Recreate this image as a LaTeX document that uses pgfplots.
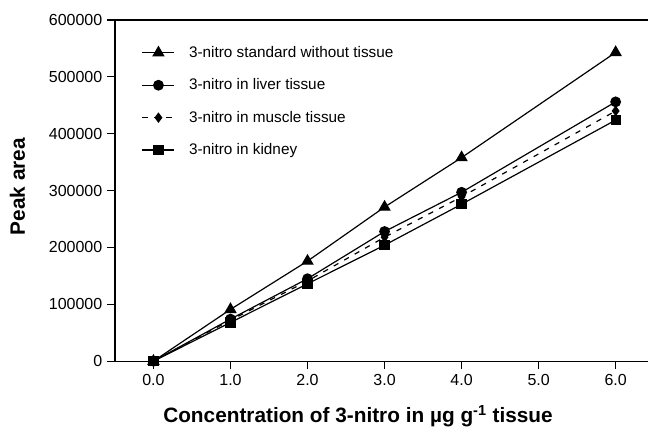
\documentclass[border=0pt]{standalone}
\usepackage{fontspec}
\setmainfont{Liberation Sans}
\usepackage{pgfplots}
\pgfplotsset{compat=1.18}

\begin{document}
\begin{tikzpicture}
\begin{axis}[
    scale only axis, width=400pt, height=256pt,
    xmin=-0.5, xmax=6.42, ymin=0, ymax=600000,
    axis x line*=box, axis y line*=left,
    axis line style={-, line width=0.9pt},
    xtick={0,1,2,3,4,5,6},
    ytick={0,100000,200000,300000,400000,500000,600000},
    xtick pos=bottom, ytick pos=left,
    tick align=outside,
    major tick length=6pt,
    tick style={line width=0.8pt, black},
    scaled y ticks=false,
    /pgf/number format/assume math mode=true,
    xticklabel style={font=\fontsize{12}{14}\selectfont,
        /pgf/number format/.cd, fixed, fixed zerofill, precision=1},
    yticklabel style={font=\fontsize{12}{14}\selectfont,
        /pgf/number format/.cd, fixed, 1000 sep={}},
    xlabel={\textbf{Concentration of 3-nitro in µg g\textsuperscript{-1} tissue}},
    xlabel style={font=\fontsize{15.6}{17}\selectfont, at={([yshift=-45.75pt]axis cs:2.655,0)},
        anchor=base, inner sep=0pt},
    ylabel={\textbf{Peak area}},
    ylabel style={font=\fontsize{15.6}{17}\selectfont, at={([xshift=-67.5pt,yshift=3pt]axis description cs:0,0.5)},
        anchor=base, inner sep=0pt},
    legend cell align=left,
    legend style={draw=none, fill=none, font=\fontsize{11.5}{13}\selectfont,
        at={([xshift=17pt,yshift=-15.5pt]rel axis cs:0,1)}, anchor=north west, row sep=10.5pt,
        /tikz/every odd column/.append style={column sep=8.5pt}},
    legend image code/.code={
        \draw[mark repeat=2,mark phase=2] plot coordinates {(0pt,0pt)(12pt,0pt)(24pt,0pt)};},
    every axis plot/.append style={black, line width=0.9pt},
]
\addplot[mark=triangle*, mark size=4.5pt, mark options={solid}] coordinates {
    (0,0) (1,91000) (2,176000) (3,271000) (4,358000) (6,543000)
};
\addlegendentry{3-nitro standard without tissue}
\addplot[mark=*, mark size=3.6pt, mark options={solid}] coordinates {
    (0,0) (1,74000) (2,145000) (3,228000) (4,297000) (6,456000)
};
\addlegendentry{3-nitro in liver tissue}
\addplot[dash pattern=on 4pt off 5pt, mark=diamond*, mark size=3.2pt, mark options={solid}] coordinates {
    (0,0) (1,72000) (2,141000) (3,218000) (4,289000) (6,440000)
};
\addlegendentry{3-nitro in muscle tissue}
\addplot[mark=square*, mark size=3.4pt, mark options={solid}] coordinates {
    (0,0) (1,68000) (2,136000) (3,204000) (4,276000) (6,424000)
};
\addlegendentry{3-nitro in kidney}
\coordinate (SW) at (rel axis cs:0,0);
\coordinate (NE) at (rel axis cs:1,1);
\end{axis}
\pgfresetboundingbox
\path[use as bounding box] ([shift={(-86.25pt,-48.75pt)}]SW) rectangle ([yshift=15pt]NE);
\end{tikzpicture}
\end{document}
